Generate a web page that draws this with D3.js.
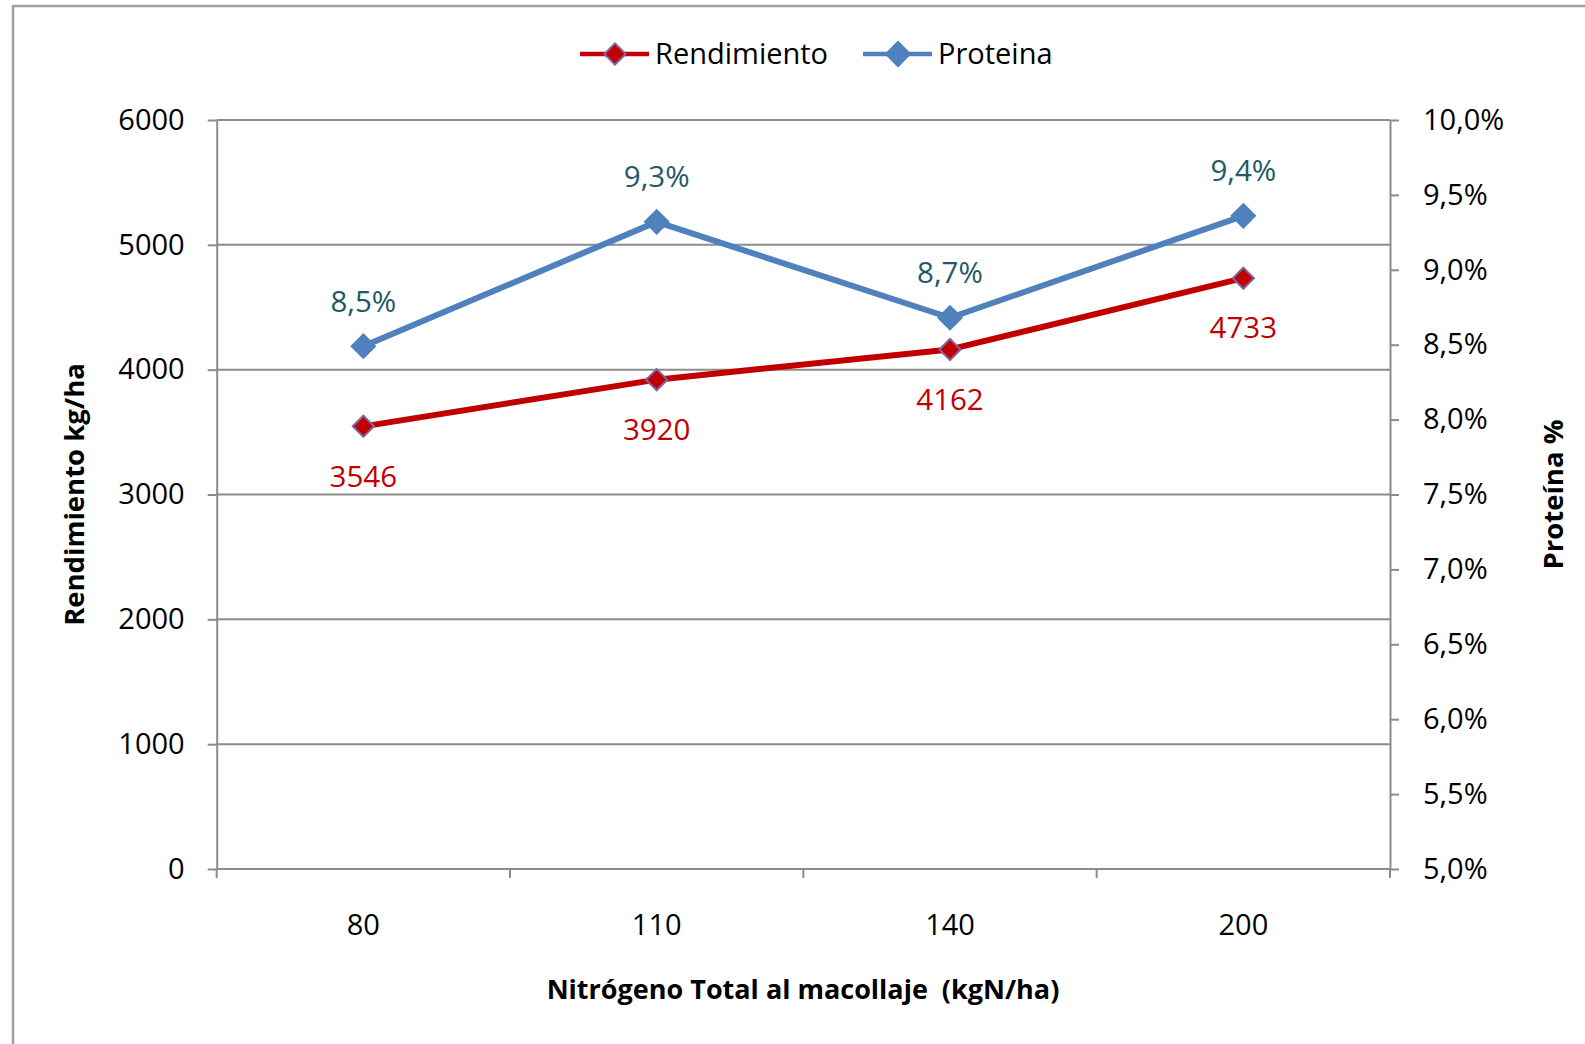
<!DOCTYPE html>
<html>
<head>
<meta charset="utf-8">
<script src="https://d3js.org/d3.v7.min.js"></script>
<style>
  body { margin: 0; background: #fff; }
  svg { display: block; font-family: "Open Sans", sans-serif; }
</style>
</head>
<body>
<div id="chart"></div>
<script>
// nitrogen doses (kgN/ha), yield (kg/ha) and protein (fraction)
var categories = ["80", "110", "140", "200"];
var rendimiento = [3546, 3920, 4162, 4733];
var proteina = [0.0849, 0.0932, 0.0868, 0.0936];
var leftTicks = [0, 1000, 2000, 3000, 4000, 5000, 6000];
var rightTicks = [0.05, 0.055, 0.06, 0.065, 0.07, 0.075, 0.08, 0.085, 0.09, 0.095, 0.10];

var W = 1585, H = 1044;
var svg = d3.select("#chart").append("svg").attr("width", W).attr("height", H);

var margin = {top: 120, right: 195, bottom: 175, left: 216.7},
    plotW = W - margin.left - margin.right,
    plotH = H - margin.top - margin.bottom;

var axisColor = "#8c8c8c",
    red = "#c00000",
    blue = "#4f81bd",
    pctFmt = function(d) { return d3.format(".1%")(d).replace(".", ","); };

// outer frame (only top and left edges are visible in the picture)
svg.append("rect")
    .attr("x", 13).attr("y", 6)
    .attr("width", W + 20).attr("height", H + 20)
    .attr("fill", "none")
    .attr("stroke", "#a0a0a0")
    .attr("stroke-width", 2.5);

var g = svg.append("g")
    .attr("transform", "translate(" + margin.left + "," + margin.top + ")");

var x = d3.scaleBand().domain(categories).range([0, plotW]).padding(0);
var y = d3.scaleLinear().domain([0, 6000]).range([plotH, 0]);
var y2 = d3.scaleLinear().domain([0.05, 0.10]).range([plotH, 0]);

// gridlines
g.selectAll(".grid")
    .data(leftTicks.slice(1))
    .enter().append("line")
    .attr("class", "grid")
    .attr("x1", 0).attr("x2", plotW)
    .attr("y1", function(d) { return y(d); })
    .attr("y2", function(d) { return y(d); })
    .attr("stroke", axisColor)
    .attr("stroke-width", 2);

// left axis
g.append("g")
    .attr("class", "axis axis--y")
    .call(d3.axisLeft(y).tickValues(leftTicks).tickFormat(d3.format("d"))
        .tickSize(9).tickSizeOuter(0).tickPadding(23));

// right axis
g.append("g")
    .attr("class", "axis axis--y2")
    .attr("transform", "translate(" + plotW + ",0)")
    .call(d3.axisRight(y2).tickValues(rightTicks).tickFormat(pctFmt)
        .tickSize(9).tickSizeOuter(0).tickPadding(24));

// bottom axis: labels centered on bands, ticks on band edges
var xAxis = g.append("g")
    .attr("class", "axis axis--x")
    .attr("transform", "translate(0," + plotH + ")")
    .call(d3.axisBottom(x).tickSize(0).tickPadding(45));
xAxis.select(".domain").remove();

xAxis.append("line")
    .attr("x1", 0).attr("x2", plotW)
    .attr("stroke", axisColor).attr("stroke-width", 2);

var edges = categories.map(function(c) { return x(c); }).concat([plotW]);
xAxis.selectAll(".edge")
    .data(edges)
    .enter().append("line")
    .attr("class", "edge")
    .attr("x1", function(d) { return d; })
    .attr("x2", function(d) { return d; })
    .attr("y1", 0).attr("y2", 9)
    .attr("stroke", axisColor).attr("stroke-width", 2);

svg.selectAll(".axis .domain").attr("stroke", axisColor).attr("stroke-width", 2);
svg.selectAll(".axis .tick line").attr("stroke", axisColor).attr("stroke-width", 2);
svg.selectAll(".axis text")
    .attr("font-family", "'Open Sans', sans-serif")
    .attr("font-size", 29)
    .attr("fill", "#000");

var cx = function(i) { return x(categories[i]) + x.bandwidth() / 2; };

var diamond = function(s) { return d3.symbol().type(d3.symbolSquare).size(s * s)(); };

// protein line
var protLine = d3.line()
    .x(function(d, i) { return cx(i); })
    .y(function(d) { return y2(d); });

g.append("path")
    .datum(proteina)
    .attr("d", protLine)
    .attr("fill", "none")
    .attr("stroke", blue)
    .attr("stroke-width", 6)
    .attr("stroke-linejoin", "round");

g.selectAll(".prot-mark")
    .data(proteina)
    .enter().append("path")
    .attr("class", "prot-mark")
    .attr("d", diamond(18.5))
    .attr("transform", function(d, i) { return "translate(" + cx(i) + "," + y2(d) + ") rotate(45)"; })
    .attr("fill", blue);

// yield line
var rendLine = d3.line()
    .x(function(d, i) { return cx(i); })
    .y(function(d) { return y(d); });

g.append("path")
    .datum(rendimiento)
    .attr("d", rendLine)
    .attr("fill", "none")
    .attr("stroke", red)
    .attr("stroke-width", 6)
    .attr("stroke-linejoin", "round");

g.selectAll(".rend-mark")
    .data(rendimiento)
    .enter().append("path")
    .attr("class", "rend-mark")
    .attr("d", diamond(15))
    .attr("transform", function(d, i) { return "translate(" + cx(i) + "," + y(d) + ") rotate(45)"; })
    .attr("fill", red)
    .attr("stroke", "#8064a2")
    .attr("stroke-width", 2);

// data labels
g.selectAll(".prot-label")
    .data(proteina)
    .enter().append("text")
    .attr("class", "prot-label")
    .attr("x", function(d, i) { return cx(i); })
    .attr("y", function(d) { return y2(d) - 45; })
    .attr("dy", "0.35em")
    .attr("text-anchor", "middle")
    .attr("font-size", 29.5)
    .attr("fill", "#215967")
    .text(pctFmt);

g.selectAll(".rend-label")
    .data(rendimiento)
    .enter().append("text")
    .attr("class", "rend-label")
    .attr("x", function(d, i) { return cx(i); })
    .attr("y", function(d) { return y(d) + 50; })
    .attr("dy", "0.35em")
    .attr("text-anchor", "middle")
    .attr("font-size", 29.5)
    .attr("fill", red)
    .text(function(d) { return d; });

// axis titles
svg.append("text")
    .attr("transform", "translate(84," + (margin.top + plotH / 2) + ") rotate(-90)")
    .attr("text-anchor", "middle")
    .attr("font-size", 27.5)
    .attr("font-weight", "bold")
    .text("Rendimiento kg/ha");

svg.append("text")
    .attr("transform", "translate(1563," + (margin.top + plotH / 2) + ") rotate(-90)")
    .attr("text-anchor", "middle")
    .attr("font-size", 27.5)
    .attr("font-weight", "bold")
    .text("Proteína %");

svg.append("text")
    .attr("x", 803)
    .attr("y", 990)
    .attr("dy", "0.35em")
    .attr("text-anchor", "middle")
    .attr("font-size", 27)
    .attr("font-weight", "bold")
    .style("white-space", "pre")
    .text("Nitrógeno Total al macollaje  (kgN/ha)");

// legend
var legendItems = [
    {name: "Rendimiento", color: red, stroke: "#8064a2", size: 15, x: 580},
    {name: "Proteina", color: blue, stroke: "none", size: 19, x: 863}
];
var legend = svg.selectAll(".legend")
    .data(legendItems)
    .enter().append("g")
    .attr("class", "legend")
    .attr("transform", function(d) { return "translate(" + d.x + ",54)"; });

legend.append("line")
    .attr("x1", 0).attr("x2", 69)
    .attr("stroke", function(d) { return d.color; })
    .attr("stroke-width", 4.5);

legend.append("path")
    .attr("d", function(d) { return diamond(d.size); })
    .attr("transform", "translate(35,0) rotate(45)")
    .attr("fill", function(d) { return d.color; })
    .attr("stroke", function(d) { return d.stroke; })
    .attr("stroke-width", 2);

legend.append("text")
    .attr("x", 75)
    .attr("dy", "0.35em")
    .attr("font-size", 29)
    .text(function(d) { return d.name; });
</script>
</body>
</html>
